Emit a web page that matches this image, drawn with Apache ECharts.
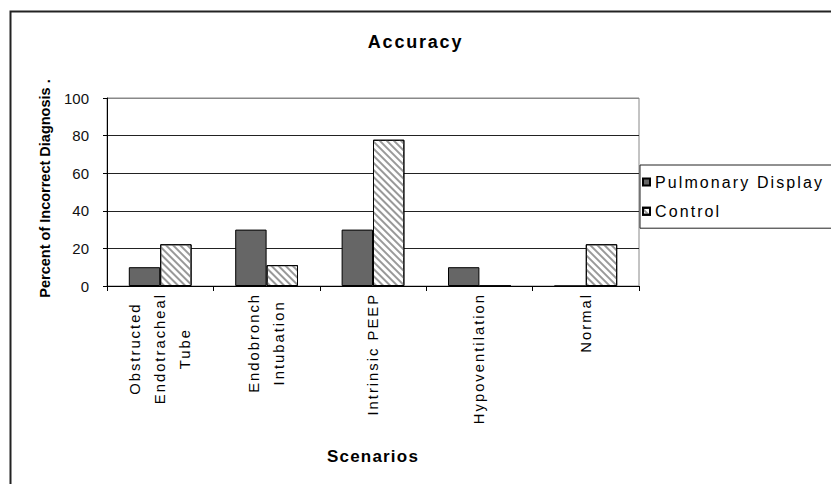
<!DOCTYPE html>
<html><head><meta charset="utf-8">
<script src="https://cdn.jsdelivr.net/npm/echarts@6/dist/echarts.min.js"></script>
<style>
html,body{margin:0;padding:0;background:#fff;}
#chart{width:831px;height:484px;}
#chart text[style*="14.8px"]{letter-spacing:2px;}
#chart text[style*="16px"]{letter-spacing:2.1px;}
#chart text[style*="18px"]{letter-spacing:1.8px;}
#chart text[style*="17px"]{letter-spacing:1.2px;}
</style></head><body><div id="chart"></div>
<script>
// ---- data ----
const categories = ['Obstructed\nEndotracheal\nTube', 'Endobronch\nIntubation', 'Intrinsic PEEP', 'Hypoventilation', 'Normal'];
const pulmonaryDisplay = [10, 30, 30, 10, 0];
const control = [22.2, 11.1, 77.8, 0, 22.2];
const seriesNames = ['Pulmonary Display', 'Control'];
const yMin = 0, yMax = 100, yStep = 20;

// letter spacing (matches CSS above) taken into account for layout
const SPACING = {'14.8px': 2, '16px': 2.1, '18px': 1.8, '17px': 1.2};
const mctx = document.createElement('canvas').getContext('2d');
echarts.setPlatformAPI({
  measureText(text, font) {
    mctx.font = font || '12px sans-serif';
    const w = mctx.measureText(text).width;
    const m = /(\d+(?:\.\d+)?)px/.exec(font || '');
    const s = m ? (SPACING[m[1] + 'px'] || 0) : 0;
    return { width: w + s * String(text).length };
  }
});

const FF = 'Liberation Sans, Arial, sans-serif';
const chart = echarts.init(document.getElementById('chart'), null, {renderer: 'svg'});
chart.setOption({
  animation: false,
  backgroundColor: '#fff',
  title: {
    text: 'Accuracy', left: 'center', top: 32, padding: [0, 0, 0, 13],
    textStyle: {fontFamily: FF, fontSize: 18, fontWeight: 'bold', color: '#000'}
  },
  graphic: [{
    type: 'rect', silent: true, z: -1,
    shape: {x: 10.5, y: 11.5, width: 1000, height: 1000},
    style: {fill: 'none', stroke: '#222', lineWidth: 2}
  }],
  legend: {
    orient: 'vertical', left: 640, top: 165,
    padding: [8, 10, 8, 2], itemGap: 11, itemWidth: 7, itemHeight: 7,
    borderColor: '#222', borderWidth: 1, icon: 'rect',
    textStyle: {fontFamily: FF, fontSize: 16, lineHeight: 18, color: '#000'},
    data: seriesNames
  },
  grid: {left: 107, right: 192, top: 98, bottom: 198, show: true, borderColor: '#888', borderWidth: 1},
  xAxis: {
    type: 'category', data: categories,
    name: 'Scenarios', nameLocation: 'middle', nameGap: 161,
    nameTextStyle: {fontFamily: FF, fontSize: 17, fontWeight: 'bold', color: '#000'},
    axisLine: {lineStyle: {color: '#000', width: 1}},
    axisTick: {show: true, length: 5, lineStyle: {color: '#000'}},
    axisLabel: {
      rotate: 90, interval: 0, margin: 7, color: '#000',
      formatter: v => v.split('\n').map(l => '{c|' + l + '}').join('\n'),
      rich: {c: {align: 'center', fontFamily: FF, fontSize: 14.8, lineHeight: 25, color: '#000'}}
    }
  },
  yAxis: {
    type: 'value', min: yMin, max: yMax, interval: yStep,
    name: 'Percent of Incorrect Diagnosis .', nameLocation: 'middle', nameGap: 55,
    nameTextStyle: {fontFamily: FF, fontSize: 14.5, fontWeight: 'bold', color: '#000', padding: [0, 0, 0, 7]},
    axisLine: {show: true, lineStyle: {color: '#000', width: 1}},
    axisTick: {show: true, length: 4, lineStyle: {color: '#000'}},
    axisLabel: {margin: 18, fontFamily: FF, fontSize: 15, color: '#111'},
    splitLine: {show: true, lineStyle: {color: ['#222', '#222', '#222', '#222', '#222', '#888'], width: 1}}
  },
  series: [
    {
      name: seriesNames[0], type: 'bar', data: pulmonaryDisplay,
      barGap: '0%', barCategoryGap: '41%',
      itemStyle: {color: '#666', borderColor: '#000', borderWidth: 1}
    },
    {
      name: seriesNames[1], type: 'bar', data: control,
      barGap: '0%', barCategoryGap: '41%',
      itemStyle: {
        color: '#fff', borderColor: '#000', borderWidth: 1,
        decal: {symbol: 'rect', symbolSize: 1, dashArrayX: [1, 0], dashArrayY: [2, 3], rotation: Math.PI / 4, color: '#999'}
      }
    }
  ]
});
</script></body></html>
